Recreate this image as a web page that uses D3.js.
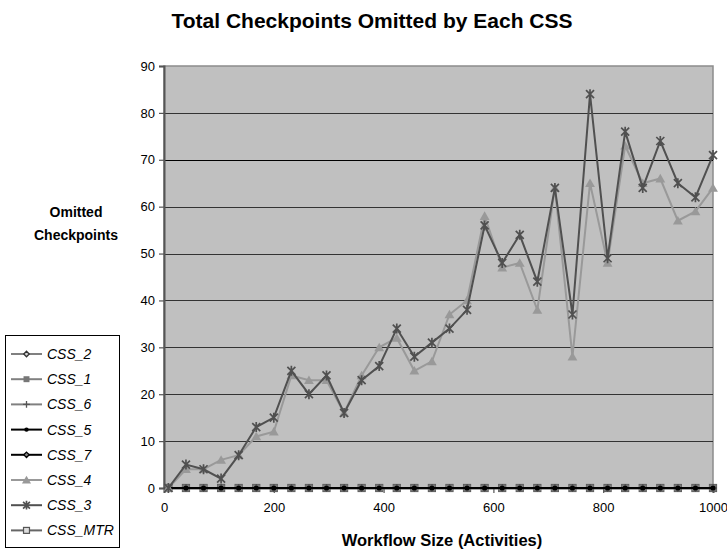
<!DOCTYPE html>
<html>
<head>
<meta charset="utf-8">
<script src="https://cdn.jsdelivr.net/npm/d3@7"></script>
<style>
  body { margin: 0; background: #fff; }
  svg { display: block; font-family: "Liberation Sans", Arial, sans-serif; }
</style>
</head>
<body>
<svg id="chart" width="727" height="556"></svg>
<script>
// ---- data ----
const workflowSizes = [8, 40, 72, 104, 136, 168, 200, 232, 264, 296, 328, 360, 392, 424, 456, 488,
                       520, 552, 584, 616, 648, 680, 712, 744, 776, 808, 840, 872, 904, 936, 968, 1000];
const css3 = [0, 5, 4, 2, 7, 13, 15, 25, 20, 24, 16, 23, 26, 34, 28, 31,
              34, 38, 56, 48, 54, 44, 64, 37, 84, 49, 76, 64, 74, 65, 62, 71];
const css4 = [0, 4, 4, 6, 7, 11, 12, 24, 23, 23, 16, 24, 30, 32, 25, 27,
              37, 40, 58, 47, 48, 38, 64, 28, 65, 48, 73, 65, 66, 57, 59, 64];
const css2 = workflowSizes.map(() => 0);
const css1 = workflowSizes.map(() => 0);
const css6 = workflowSizes.map(() => 0);
const css5 = workflowSizes.map(() => 0);
const css7 = workflowSizes.map(() => 0);
const cssMTR = workflowSizes.map(() => 0);
const legendNames = ["CSS_2", "CSS_1", "CSS_6", "CSS_5", "CSS_7", "CSS_4", "CSS_3", "CSS_MTR"];
const xTicks = [0, 200, 400, 600, 800, 1000];
const yTicks = [0, 10, 20, 30, 40, 50, 60, 70, 80, 90];

// series styles
const styles = {
  "CSS_2":   { values: css2,   line: "#808080", marker: "diamond", fill: "#d8d8d8", stroke: "#333" },
  "CSS_1":   { values: css1,   line: "#808080", marker: "square",  fill: "#777",    stroke: "#777" },
  "CSS_6":   { values: css6,   line: "#808080", marker: "plus",    fill: "none",    stroke: "#555" },
  "CSS_5":   { values: css5,   line: "#000",    marker: "circle",  fill: "#000",    stroke: "#000" },
  "CSS_7":   { values: css7,   line: "#000",    marker: "diamond", fill: "#888",    stroke: "#000" },
  "CSS_4":   { values: css4,   line: "#999999", marker: "triangle",fill: "#999999", stroke: "#999999" },
  "CSS_3":   { values: css3,   line: "#505050", marker: "star",    fill: "none",    stroke: "#505050" },
  "CSS_MTR": { values: cssMTR, line: "#666",    marker: "hsquare", fill: "#ddd",    stroke: "#555" }
};
const drawOrder = ["CSS_MTR", "CSS_2", "CSS_6", "CSS_7", "CSS_1", "CSS_5", "CSS_4", "CSS_3"];

const svg = d3.select("#chart");
const plot = { left: 164, right: 713, top: 66, bottom: 488 };
const x = d3.scaleLinear().domain([0, 1000]).range([plot.left, plot.right]);
const y = d3.scaleLinear().domain([0, 90]).range([plot.bottom, plot.top]);

// background
svg.append("rect").attr("x", plot.left).attr("y", plot.top)
  .attr("width", plot.right - plot.left).attr("height", plot.bottom - plot.top)
  .attr("fill", "#c0c0c0").attr("stroke", "#8c8c8c").attr("stroke-width", 1.5);

// gridlines
svg.append("g").selectAll("line").data(yTicks.filter(d => d > 0 && d < 90)).join("line")
  .attr("x1", plot.left).attr("x2", plot.right)
  .attr("y1", d => Math.round(y(d)) + 0.5).attr("y2", d => Math.round(y(d)) + 0.5)
  .attr("stroke", d => d === 70 ? "#000" : "#333").attr("stroke-width", 1.2);

// axes
const yAxis = d3.axisLeft(y).tickValues(yTicks).tickSize(5).tickPadding(4);
const gy = svg.append("g").attr("transform", `translate(${plot.left},0)`).call(yAxis);
const xAxis = d3.axisBottom(x).tickValues(xTicks).tickFormat(d3.format("d")).tickSize(5).tickPadding(10);
const gx = svg.append("g").attr("transform", `translate(0,${plot.bottom})`).call(xAxis);
[gx, gy].forEach(g => {
  g.select(".domain").attr("stroke", "#555").attr("stroke-width", 2);
  g.selectAll(".tick line").attr("stroke", "#555").attr("stroke-width", 1.2);
  g.selectAll(".tick text").attr("fill", "#000").style("font-size", "13px")
    .style("font-family", "'Liberation Sans', Arial, sans-serif");
});

// markers
function drawMarker(g, type, s, cx, cy, scale) {
  const k = scale || 1;
  if (type === "triangle") {
    g.append("path").attr("d", d3.symbol(d3.symbolTriangle, 42 * k)())
      .attr("transform", `translate(${cx},${cy + 1})`).attr("fill", s.fill);
  } else if (type === "star") {
    const r = 4 * k;
    g.append("path")
      .attr("d", `M${cx - r},${cy - r}L${cx + r},${cy + r}M${cx - r},${cy + r}L${cx + r},${cy - r}M${cx},${cy - r - 1}L${cx},${cy + r + 1}`)
      .attr("stroke", s.stroke).attr("stroke-width", 1.7).attr("fill", "none");
  } else if (type === "diamond") {
    g.append("path").attr("d", d3.symbol(d3.symbolDiamond2 || d3.symbolDiamond, 22 * k)())
      .attr("transform", `translate(${cx},${cy})`).attr("fill", s.fill).attr("stroke", s.stroke).attr("stroke-width", 1.3);
  } else if (type === "square") {
    g.append("rect").attr("x", cx - 3.5 * k).attr("y", cy - 3.5 * k).attr("width", 7 * k).attr("height", 7 * k)
      .attr("fill", s.fill);
  } else if (type === "hsquare") {
    g.append("rect").attr("x", cx - 3.5 * k).attr("y", cy - 3.5 * k).attr("width", 7 * k).attr("height", 7 * k)
      .attr("fill", s.fill).attr("stroke", s.stroke).attr("stroke-width", 1.2);
  } else if (type === "plus") {
    const r = 4 * k;
    g.append("path").attr("d", `M${cx - r},${cy}L${cx + r},${cy}M${cx},${cy - r}L${cx},${cy + r}`)
      .attr("stroke", s.stroke).attr("stroke-width", 1.3);
  } else if (type === "circle") {
    g.append("circle").attr("cx", cx).attr("cy", cy).attr("r", 2.6 * k).attr("fill", s.fill);
  }
}

const line = d3.line().x(d => x(d[0])).y(d => y(d[1]));
drawOrder.forEach(name => {
  const s = styles[name];
  const pts = workflowSizes.map((w, i) => [w, s.values[i]]);
  const g = svg.append("g");
  g.append("path").datum(pts).attr("d", line).attr("fill", "none")
    .attr("stroke", s.line).attr("stroke-width", 2);
  pts.forEach(p => drawMarker(g, s.marker, s, x(p[0]), y(p[1])));
});

// title
svg.append("text").attr("x", 372).attr("y", 28).attr("text-anchor", "middle")
  .style("font-size", "21px").style("font-weight", "bold").text("Total Checkpoints Omitted by Each CSS");

// y title
const yt = svg.append("text").attr("text-anchor", "middle").style("font-size", "14px").style("font-weight", "bold");
yt.append("tspan").attr("x", 76).attr("y", 217).text("Omitted");
yt.append("tspan").attr("x", 76).attr("y", 240).text("Checkpoints");

// x title
svg.append("text").attr("x", 442).attr("y", 546).attr("text-anchor", "middle")
  .style("font-size", "16.5px").style("font-weight", "bold").text("Workflow Size (Activities)");

// legend
const lg = svg.append("g");
lg.append("rect").attr("x", 5.5).attr("y", 335.5).attr("width", 114).attr("height", 212)
  .attr("fill", "#fff").attr("stroke", "#000").attr("stroke-width", 1);
legendNames.forEach((name, i) => {
  const s = styles[name];
  const cy = 354 + i * 25.2;
  lg.append("line").attr("x1", 11).attr("x2", 42).attr("y1", cy).attr("y2", cy)
    .attr("stroke", s.line).attr("stroke-width", 2);
  drawMarker(lg, s.marker, s, 26.5, cy, 0.85);
  lg.append("text").attr("x", 47).attr("y", cy + 5).style("font-size", "14px")
    .style("font-style", "italic").text(name);
});
</script>
</body>
</html>
